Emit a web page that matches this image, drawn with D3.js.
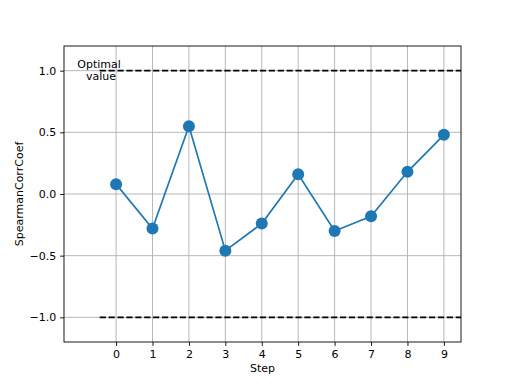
<!DOCTYPE html>
<html>
<head>
<meta charset="utf-8">
<script src="https://cdn.jsdelivr.net/npm/d3@7"></script>
<style>
  body { margin: 0; background: #fff; }
  text { font-family: "DejaVu Sans", sans-serif; fill: #000; }
</style>
</head>
<body>
<div id="chart"></div>
<script>
var steps = [0, 1, 2, 3, 4, 5, 6, 7, 8, 9],
    corr = [0.08, -0.28, 0.55, -0.46, -0.24, 0.16, -0.30, -0.18, 0.18, 0.48],
    yTicks = [-1.0, -0.5, 0.0, 0.5, 1.0],
    optimal = [1, -1];

var width = 512, height = 384,
    margin = {left: 64, right: 51, top: 46, bottom: 42};

var svg = d3.select('div#chart').append('svg')
    .attr('width', width)
    .attr('height', height);

var x = d3.scaleLinear().domain([-1.43, 9.47]).range([margin.left, width - margin.right]);
var y = d3.scaleLinear().domain([-1.2, 1.2]).range([height - margin.bottom, margin.top]);

svg.append('defs').append('clipPath').attr('id', 'clip')
  .append('rect')
    .attr('x', margin.left).attr('y', margin.top)
    .attr('width', width - margin.left - margin.right)
    .attr('height', height - margin.top - margin.bottom);

// grid
var grid = svg.append('g').attr('stroke', '#b0b0b0').attr('stroke-width', 0.9);
grid.selectAll('line.vx').data(steps).enter().append('line')
    .attr('x1', d => x(d)).attr('x2', d => x(d))
    .attr('y1', margin.top).attr('y2', height - margin.bottom);
grid.selectAll('line.hy').data(yTicks).enter().append('line')
    .attr('y1', d => y(d)).attr('y2', d => y(d))
    .attr('x1', margin.left).attr('x2', width - margin.right);

// optimal value lines
svg.append('g').attr('clip-path', 'url(#clip)')
  .selectAll('line').data(optimal).enter().append('line')
    .attr('x1', x(-0.45)).attr('x2', x(9.6))
    .attr('y1', d => y(d)).attr('y2', d => y(d))
    .attr('stroke', '#000').attr('stroke-width', 1.7)
    .attr('stroke-dasharray', '6.2,2.7');

var label = svg.append('text')
    .attr('text-anchor', 'middle')
    .style('font-size', '11px');
label.append('tspan').attr('x', 99).attr('y', y(1) - 3).text('Optimal');
label.append('tspan').attr('x', 101).attr('y', y(1) + 9).text('value');

// series
svg.append('path').datum(steps)
    .attr('fill', 'none').attr('stroke', '#1f77b4').attr('stroke-width', 1.67)
    .attr('d', d3.line().x(d => x(d)).y((d, i) => y(corr[i])));
svg.selectAll('circle').data(steps).enter().append('circle')
    .attr('cx', d => x(d)).attr('cy', (d, i) => y(corr[i]))
    .attr('r', 6).attr('fill', '#1f77b4');

// axes
var xAxis = svg.append('g')
    .attr('transform', 'translate(0,' + (height - margin.bottom) + ')')
    .call(d3.axisBottom(x).tickValues(steps).tickFormat(d3.format('d')).tickSize(3.9).tickPadding(3.9));
var yAxis = svg.append('g')
    .attr('transform', 'translate(' + margin.left + ',0)')
    .call(d3.axisLeft(y).tickValues(yTicks).tickFormat(d => d3.format('.1f')(d).replace('-', '\u2212')).tickSize(3.9).tickPadding(3.9));
[xAxis, yAxis].forEach(function (a) {
  a.select('.domain').remove();
  a.selectAll('text').style('font-size', '11px').style('font-family', '"DejaVu Sans", sans-serif');
  a.selectAll('line').attr('stroke', '#000').attr('stroke-width', 0.9);
});

svg.append('rect')
    .attr('x', margin.left).attr('y', margin.top)
    .attr('width', width - margin.left - margin.right)
    .attr('height', height - margin.top - margin.bottom)
    .attr('fill', 'none').attr('stroke', '#000').attr('stroke-width', 0.9);

svg.append('text')
    .attr('x', (margin.left + width - margin.right) / 2).attr('y', 372)
    .attr('text-anchor', 'middle').style('font-size', '11px')
    .text('Step');
svg.append('text')
    .attr('transform', 'translate(23,' + (margin.top + height - margin.bottom) / 2 + ') rotate(-90)')
    .attr('text-anchor', 'middle').style('font-size', '11px')
    .text('SpearmanCorrCoef');
</script>
</body>
</html>
